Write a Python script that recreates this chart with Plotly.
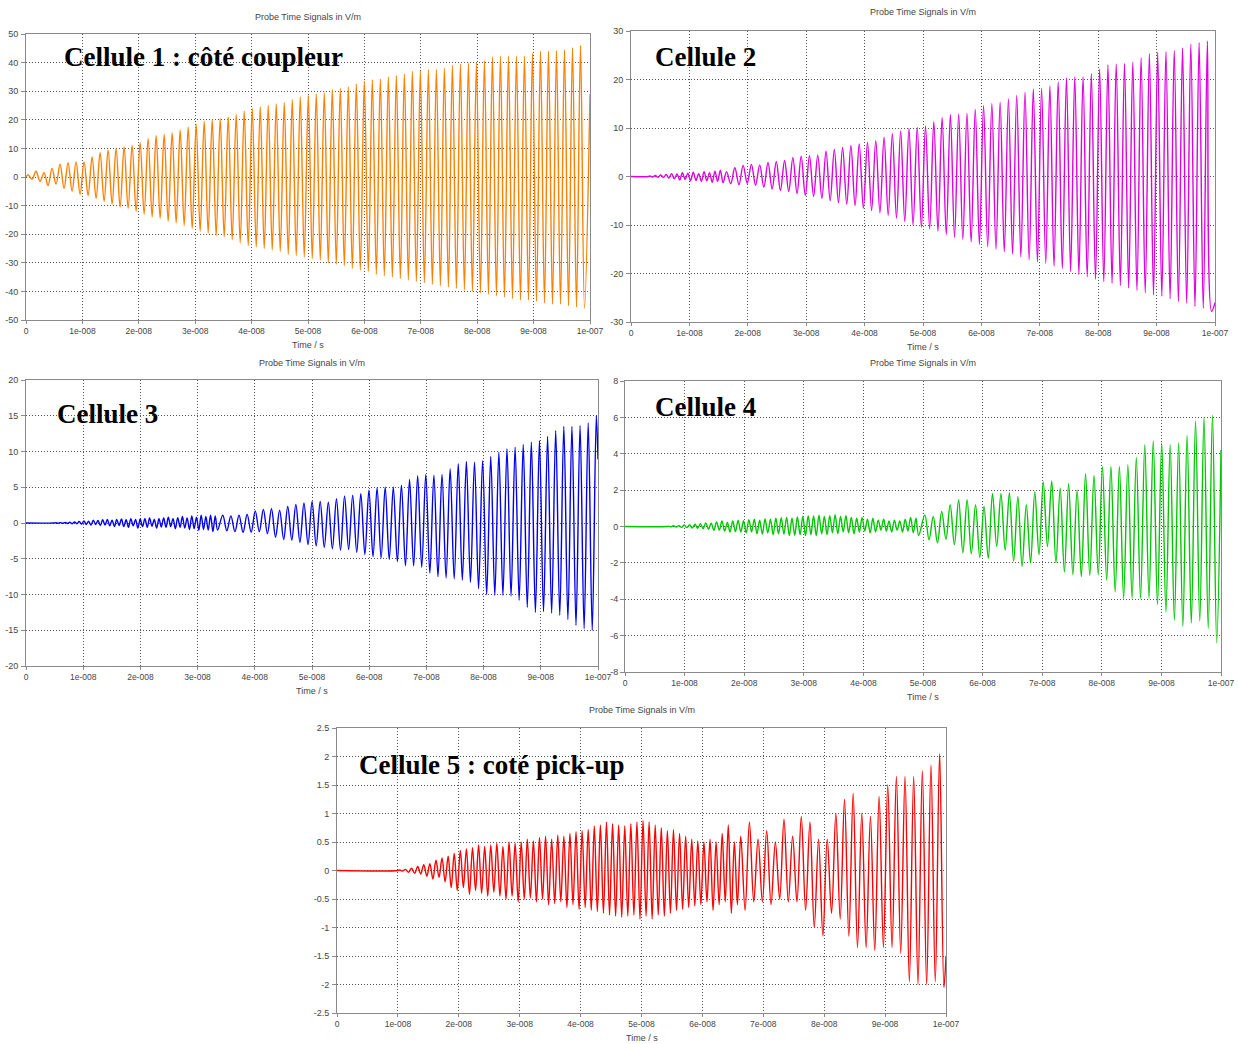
import plotly.graph_objects as go

# ---------------- data ----------------
T_RF = 1 / 704.4e6          # carrier period read from peak spacing (s)
T_END = 1e-7

x_tickvals = [0, 1e-8, 2e-8, 3e-8, 4e-8, 5e-8, 6e-8, 7e-8, 8e-8, 9e-8, 1e-7]
x_ticktext = ["0", "1e-008", "2e-008", "3e-008", "4e-008", "5e-008",
              "6e-008", "7e-008", "8e-008", "9e-008", "1e-007"]

y1_ticks = [-50, -40, -30, -20, -10, 0, 10, 20, 30, 40, 50]
y2_ticks = [-30, -20, -10, 0, 10, 20, 30]
y3_ticks = [-20, -15, -10, -5, 0, 5, 10, 15, 20]
y4_ticks = [-8, -6, -4, -2, 0, 2, 4, 6, 8]
y5_ticks = [-2.5, -2, -1.5, -1, -0.5, 0, 0.5, 1, 1.5, 2, 2.5]
y5_ticktext = ["-2.5", "-2", "-1.5", "-1", "-0.5", "0", "0.5", "1", "1.5", "2", "2.5"]

labels = ["Cellule 1 : côté coupleur", "Cellule 2", "Cellule 3", "Cellule 4",
          "Cellule 5 : coté pick-up"]

# Cellule 1 : per-cycle maxima / minima
c1_start = 0.0
c1_first_top = 0.036e-8
c1_hi = [0.8, 2.0, 1.5, 3.0, 4.5, 5.0, 5.3, 5.3, 7.0, 8.5,
         9.5, 10.0, 10.5, 11.0, 12.0, 13.5, 14.5, 15.0, 15.5, 16.5,
         17.5, 18.5, 19.5, 20.0, 20.5, 21.0, 22.0, 23.0, 24.0, 24.5,
         25.0, 25.5, 26.0, 27.0, 28.0, 28.5, 29.0, 29.5, 30.5, 31.0,
         31.5, 32.5, 33.5, 34.0, 34.3, 35.0, 35.5, 36.0, 37.0, 37.2,
         37.5, 37.5, 38.0, 39.0, 39.5, 39.8, 40.0, 40.7, 42.0, 42.2,
         42.2, 42.2, 42.2, 43.3, 44.0, 44.0, 44.2, 44.5, 45.2, 46.0]
c1_lo = [-0.8, -1.5, -3.0, -2.5, -4.0, -5.0, -6.0, -6.5, -7.5, -8.5,
         -9.5, -10.5, -11.0, -12.0, -13.0, -14.0, -14.5, -15.5, -16.0, -17.0,
         -18.0, -19.0, -19.5, -20.5, -21.0, -22.0, -23.0, -24.0, -24.5, -25.0,
         -25.5, -26.0, -27.0, -27.5, -28.0, -28.5, -29.0, -30.0, -30.5, -31.0,
         -32.0, -32.5, -33.0, -34.0, -34.5, -35.0, -35.5, -36.0, -36.5, -37.0,
         -37.5, -38.0, -38.5, -39.0, -39.5, -40.0, -40.5, -41.0, -41.5, -42.0,
         -42.5, -43.0, -43.0, -43.5, -44.0, -44.5, -44.5, -45.0, -45.5, -46.0]
c1_end = 29.0

# Cellule 2
c2_start = 0.3e-8
c2_early_span = (0.3e-8, 1.6e-8)
c2_early = [0.1, -0.1, 0.2, -0.15, 0.3, -0.2, 0.4, -0.3, 0.6, -0.5,
            0.5, -0.7, 0.8, -0.6, 0.7, -0.9, 0.9, -0.8, 0.6, -1.0,
            1.0, -0.9, 0.8, -1.2, 1.1, -1.0, 1.3, -1.3]
c2_first_top = 1.636e-8
c2_hi = [1.0, 1.8, 2.3, 2.5, 2.4, 2.9, 3.1, 3.3, 3.9, 4.2,
         4.3, 4.4, 5.2, 5.6, 6.0, 6.4, 6.7, 7.0, 7.4, 8.1,
         8.8, 9.4, 9.9, 10.1, 10.4, 11.3, 12.2, 12.8, 12.9, 13.0,
         13.8, 14.6, 15.0, 15.3, 16.0, 16.7, 17.4, 18.0, 18.2, 18.6,
         19.5, 20.3, 20.5, 20.6, 21.2, 22.2, 23.0, 23.2, 23.3, 23.6,
         24.5, 25.3, 25.6, 25.8, 26.0, 26.5, 27.3, 27.6, 27.9]
c2_lo = [-1.5, -1.7, -1.4, -1.8, -2.2, -2.6, -2.9, -3.1, -3.5, -3.9,
         -4.1, -4.5, -5.0, -5.4, -5.7, -6.0, -6.5, -7.0, -7.5, -8.0,
         -8.6, -9.3, -10.0, -10.5, -10.8, -11.3, -12.0, -12.6, -13.0, -13.5,
         -14.0, -14.5, -15.0, -15.5, -16.0, -16.6, -17.2, -17.6, -17.9, -18.5,
         -19.0, -19.6, -20.2, -20.7, -21.2, -21.7, -22.0, -22.5, -23.0, -23.5,
         -24.0, -24.4, -24.7, -25.2, -25.8, -26.2, -26.8, -27.2, -27.8]
c2_end = -26.0

# Cellule 3
c3_start = 0.5e-8
c3_early_span = (0.5e-8, 3.37e-8)
c3_early = [0.03, -0.03, 0.05, -0.05, 0.08, -0.06, 0.1, -0.1, 0.15, -0.1,
            0.2, -0.15, 0.3, -0.2, 0.25, -0.3, 0.4, -0.2, 0.35, -0.35,
            0.45, -0.3, 0.5, -0.4, 0.4, -0.5, 0.5, -0.35, 0.55, -0.5,
            0.45, -0.6, 0.6, -0.4, 0.5, -0.7, 0.55, -0.5, 0.6, -0.6,
            0.7, -0.45, 0.5, -0.7, 0.6, -0.55, 0.7, -0.6, 0.8, -0.5,
            0.6, -0.8, 0.75, -0.6, 0.9, -0.7, 0.7, -0.9, 1.0, -0.8,
            0.8, -1.0, 1.1, -0.9, 0.9, -1.0, 1.1, -1.2, 1.0, -1.0]
c3_first_top = 3.44e-8
c3_hi = [1.1, 1.0, 1.1, 1.2, 1.7, 1.9, 2.0, 1.8, 2.3, 2.6,
         2.8, 3.0, 3.0, 2.9, 3.4, 3.8, 3.9, 4.1, 4.6, 4.9,
         5.0, 5.0, 5.3, 6.1, 6.6, 6.8, 6.7, 6.8, 7.6, 8.3,
         8.6, 8.5, 8.7, 9.3, 9.9, 10.4, 10.6, 11.0, 11.3, 11.5,
         12.1, 12.9, 13.5, 13.5, 13.6, 14.0, 15.0]
c3_lo = [-1.1, -1.2, -1.3, -1.3, -1.2, -1.5, -2.0, -2.3, -2.4, -2.7,
         -3.0, -3.2, -3.4, -3.6, -3.8, -3.7, -4.1, -4.4, -4.7, -4.9,
         -5.1, -5.4, -6.0, -6.0, -6.2, -7.0, -7.5, -7.7, -7.8, -8.0,
         -8.3, -9.2, -10.0, -10.1, -10.1, -10.2, -10.8, -11.8, -12.5, -12.4,
         -12.6, -12.9, -13.5, -14.3, -14.8, -15.0]
c3_end = 8.9

# Cellule 4
c4_start = 0.7e-8
c4_early_span = (0.7e-8, 4.95e-8)
c4_early = [0.02, -0.02, 0.04, -0.03, 0.05, -0.05, 0.08, -0.06, 0.1, -0.08,
            0.12, -0.1, 0.15, -0.12, 0.2, -0.15, 0.18, -0.2, 0.25, -0.2,
            0.3, -0.25, 0.22, -0.3, 0.3, -0.28, 0.35, -0.3, 0.32, -0.35,
            0.38, -0.3, 0.4, -0.4, 0.35, -0.42, 0.42, -0.35, 0.4, -0.45,
            0.45, -0.4, 0.48, -0.42, 0.5, -0.5, 0.45, -0.48, 0.52, -0.45,
            0.55, -0.5, 0.6, -0.45, 0.58, -0.5, 0.62, -0.4, 0.55, -0.45,
            0.6, -0.35, 0.65, -0.4, 0.55, -0.3, 0.6, -0.35, 0.5, -0.4,
            0.45, -0.3, 0.5, -0.25, 0.4, -0.35, 0.45, -0.3, 0.35, -0.2,
            0.4, -0.25, 0.3, -0.3, 0.35, -0.2, 0.3, -0.3, 0.4, -0.25,
            0.5, -0.35, 0.45, -0.5]
c4_first_top = 5.03e-8
c4_hi = [0.64, 0.55, 0.83, 1.2, 1.47, 1.47, 1.2, 1.1, 1.8, 1.8,
         1.85, 1.65, 1.2, 1.9, 2.45, 2.5, 2.1, 2.35, 2.0, 2.9,
         2.8, 3.3, 3.3, 3.3, 3.4, 3.8, 4.5, 4.7, 4.6, 4.5,
         4.6, 5.0, 5.8, 6.0, 6.1]
c4_lo = [-0.73, -0.9, -0.7, -1.0, -1.45, -1.5, -1.7, -1.75, -1.1, -1.3,
         -1.9, -2.2, -2.0, -1.55, -1.1, -2.0, -2.5, -2.65, -2.75, -2.7,
         -2.65, -2.95, -3.6, -3.95, -3.95, -3.95, -3.95, -4.3, -4.7, -5.15,
         -5.5, -5.3, -5.2, -5.6, -6.4]
c4_end = 4.2

# Cellule 5
c5_start = 1.0e-8
c5_early_span = (1.0e-8, 6.6e-8)
c5_early = [0.01, -0.01, 0.02, -0.03, 0.04, -0.05, 0.07, -0.06, 0.1, -0.1,
            0.12, -0.15, 0.18, -0.12, 0.22, -0.2, 0.25, -0.3, 0.3, -0.35,
            0.35, -0.3, 0.38, -0.42, 0.4, -0.35, 0.45, -0.4, 0.42, -0.45,
            0.45, -0.38, 0.48, -0.45, 0.42, -0.5, 0.5, -0.45, 0.48, -0.55,
            0.5, -0.5, 0.55, -0.48, 0.52, -0.55, 0.58, -0.5, 0.6, -0.6,
            0.55, -0.58, 0.62, -0.55, 0.6, -0.65, 0.65, -0.6, 0.68, -0.68,
            0.7, -0.65, 0.72, -0.7, 0.78, -0.72, 0.8, -0.75, 0.85, -0.78,
            0.82, -0.8, 0.8, -0.82, 0.78, -0.8, 0.82, -0.78, 0.85, -0.85,
            0.88, -0.8, 0.85, -0.85, 0.8, -0.78, 0.75, -0.8, 0.7, -0.75,
            0.72, -0.7, 0.65, -0.68, 0.6, -0.65, 0.55, -0.62, 0.52, -0.6,
            0.5, -0.55, 0.55, -0.7, 0.5, -0.6, 0.65, -0.55, 0.8, -0.75,
            0.5, -0.6]
c5_first_top = 6.63e-8
c5_hi = [0.6, 0.85, 0.55, 0.7, 0.5, 0.9, 0.6, 0.95, 0.85, 0.55,
         0.55, 1.0, 1.25, 1.35, 1.0, 0.95, 1.3, 1.5, 1.65, 1.65,
         1.65, 1.75, 1.85, 2.05]
c5_lo = [-0.7, -0.55, -0.55, -0.6, -0.5, -0.55, -0.55, -0.7, -1.0, -1.15,
         -0.75, -0.85, -1.15, -1.35, -1.35, -1.4, -1.35, -1.35, -1.45, -1.95,
         -2.0, -2.0, -1.95, -2.05]
c5_end = -1.5


# ---------------- build the traces ----------------
def build(start, early_span, early, first_top, hi, lo, end):
    pts = [(0.0, 0.0), (start, 0.0)]
    if early:
        a, b = early_span
        dt = (b - a) / len(early)
        pts += [(a + (i + 0.5) * dt, v) for i, v in enumerate(early)]
    pts += [(first_top + k * T_RF, v) for k, v in enumerate(hi)]
    pts += [(first_top + (k + 0.5) * T_RF, v) for k, v in enumerate(lo)]
    pts = sorted(p for p in pts if p[0] < T_END)
    pts.append((T_END, end))
    return [p[0] for p in pts], [p[1] for p in pts]


series = [
    build(c1_start, None, [], c1_first_top, c1_hi, c1_lo, c1_end),
    build(c2_start, c2_early_span, c2_early, c2_first_top, c2_hi, c2_lo, c2_end),
    build(c3_start, c3_early_span, c3_early, c3_first_top, c3_hi, c3_lo, c3_end),
    build(c4_start, c4_early_span, c4_early, c4_first_top, c4_hi, c4_lo, c4_end),
    build(c5_start, c5_early_span, c5_early, c5_first_top, c5_hi, c5_lo, c5_end),
]

# ---------------- layout ----------------
W, H = 1239, 1044
colors = ["#FF8000", "#E000E0", "#0000F0", "#00C800", "#FF0000"]
# plot boxes in pixels: left, right, top, bottom
boxes = [(26, 590, 34, 320), (631, 1215, 31, 322), (26, 598, 380, 666),
         (625, 1221, 381, 672), (337, 946, 728, 1013)]
y_ticks = [y1_ticks, y2_ticks, y3_ticks, y4_ticks, y5_ticks]
y_text = [[str(v) for v in y1_ticks], [str(v) for v in y2_ticks],
          [str(v) for v in y3_ticks], [str(v) for v in y4_ticks], y5_ticktext]
label_pos = [(62, 57), (653, 57), (55, 414), (653, 407), (357, 765)]
title_y = [17, 12, 363, 363, 710]
y_standoff = [1, 1, 1, 0, 1]

tick_font = dict(family="Liberation Sans, Arial, sans-serif", size=9, color="#454545")
xtick_font = dict(family="Liberation Sans, Arial, sans-serif", size=8.5, color="#454545")

fig = go.Figure()
layout = dict(width=W, height=H, margin=dict(l=0, r=0, t=0, b=0),
              paper_bgcolor="white", plot_bgcolor="white", showlegend=False)
annotations = []

for i, ((xs, ys), col, (l, r, t, b)) in enumerate(zip(series, colors, boxes)):
    n = "" if i == 0 else str(i + 1)
    fig.add_trace(go.Scatter(x=xs, y=ys, mode="lines",
                             line=dict(color=col, width=1.4, shape="spline", smoothing=1.0),
                             xaxis="x" + n, yaxis="y" + n, hoverinfo="skip"))
    yt = y_ticks[i]
    common = dict(showline=True, linecolor="#8a8a8a", linewidth=1, mirror=True,
                  ticks="outside", tickcolor="#8a8a8a", tickwidth=1,
                  showgrid=True, gridcolor="#555555", gridwidth=1, griddash="1px,2px",
                  zeroline=False, automargin=False)
    layout["xaxis" + n] = dict(domain=[l / W, r / W], range=[0, T_END],
                               tickvals=x_tickvals, ticktext=x_ticktext, ticklen=3,
                               tickfont=xtick_font,
                               anchor="y" + n, ticklabelstandoff=0, **common)
    layout["yaxis" + n] = dict(domain=[1 - b / H, 1 - t / H], range=[yt[0], yt[-1]],
                               tickvals=yt, ticktext=y_text[i], ticklen=4,
                               tickfont=tick_font,
                               anchor="x" + n, ticklabelstandoff=y_standoff[i], **common)
    cx = (l + r) / 2
    annotations.append(dict(text="Probe Time Signals in V/m", x=cx / W, y=1 - title_y[i] / H,
                            xref="paper", yref="paper", showarrow=False,
                            xanchor="center", yanchor="middle", font=tick_font))
    annotations.append(dict(text="Time / s", x=cx / W, y=1 - (b + 25) / H,
                            xref="paper", yref="paper", showarrow=False,
                            xanchor="center", yanchor="middle", font=tick_font))
    lx, ly = label_pos[i]
    annotations.append(dict(text="<b>" + labels[i] + "</b>", x=lx / W, y=1 - ly / H,
                            xref="paper", yref="paper", showarrow=False,
                            xanchor="left", yanchor="middle",
                            font=dict(family="Liberation Serif, Times New Roman, serif",
                                      size=27, color="black")))

layout["annotations"] = annotations
fig.update_layout(**layout)
fig.write_html(
    "out.html",
    config={"displayModeBar": False},
    post_script="document.body.style.margin='0';document.body.style.padding='0';"
                "document.documentElement.style.overflow='hidden';",
)
